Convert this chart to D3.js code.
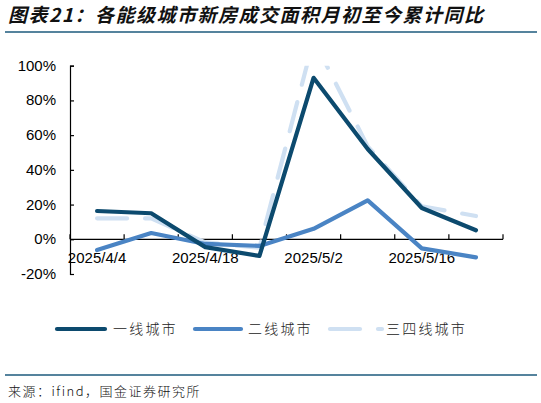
<!DOCTYPE html>
<html>
<head>
<meta charset="utf-8">
<script src="https://cdn.jsdelivr.net/npm/d3@7"></script>
<style>
  body { margin: 0; background: #fff; }
  svg { display: block; }
</style>
</head>
<body>
<div id="chart"></div>
<script>
// Data (weekly, % yoy)
const dates = ["2025/4/4", "2025/4/11", "2025/4/18", "2025/4/25", "2025/5/2", "2025/5/9", "2025/5/16", "2025/5/23"];
const tier1 = [16.3, 15.0, -4.5, -9.6, 93.0, 52.0, 18.0, 5.2];
const tier2 = [-6.2, 3.6, -2.7, -3.8, 6.0, 22.4, -5.2, -10.4];
const tier34 = [12.1, 12.0, -1.8, -4.8, 115.0, 53.5, 19.0, 13.4];
const yTicks = [-20, 0, 20, 40, 60, 80, 100];
const xLabels = ["2025/4/4", "2025/4/18", "2025/5/2", "2025/5/16"];

const seriesList = [
  {name: "一线城市", values: tier1, color: "#0c4a6e", dash: null},
  {name: "二线城市", values: tier2, color: "#4a84c4", dash: null},
  {name: "三四线城市", values: tier34, color: "#cfe0f2", dash: "30,18"}
];

const W = 541, H = 403;
const plot = {left: 70, right: 503, top: 65.7, bottom: 274};

const svg = d3.select("#chart")
  .append("svg")
  .attr("width", W)
  .attr("height", H);

svg.append("rect").attr("width", W).attr("height", H).attr("fill", "#fff");

// Title + rules
svg.append("text")
  .attr("x", 8)
  .attr("y", 22)
  .attr("font-family", "'Noto Sans CJK SC', sans-serif")
  .attr("font-size", 19)
  .attr("font-weight", "bold")
  .attr("font-style", "italic")
  .attr("letter-spacing", 1.5)
  .attr("fill", "#111")
  .text("图表21：各能级城市新房成交面积月初至今累计同比");

svg.append("line")
  .attr("x1", 5).attr("x2", 537)
  .attr("y1", 32).attr("y2", 32)
  .attr("stroke", "#1d5a7c")
  .attr("stroke-width", 1.5);

svg.append("line")
  .attr("x1", 5).attr("x2", 537)
  .attr("y1", 375).attr("y2", 375)
  .attr("stroke", "#1d5a7c")
  .attr("stroke-width", 1.5);

svg.append("text")
  .attr("x", 8)
  .attr("y", 396)
  .attr("font-family", "'Noto Sans CJK SC', sans-serif")
  .attr("font-size", 13)
  .attr("font-weight", 300)
  .attr("letter-spacing", 1.5)
  .attr("fill", "#111")
  .text("来源：ifind，国金证券研究所");

// Scales
const x = d3.scaleBand()
  .domain(dates)
  .range([plot.left, plot.right]);

const y = d3.scaleLinear()
  .domain([-20, 100])
  .range([plot.bottom, plot.top]);

// y axis (ticks point inward)
const yAxis = svg.append("g")
  .attr("transform", "translate(" + plot.left + ",0)")
  .call(d3.axisRight(y).tickValues(yTicks).tickSize(4).tickFormat(""));
yAxis.select(".domain").attr("stroke", "#000").attr("stroke-width", 1.2);
yAxis.selectAll(".tick line").attr("stroke", "#000").attr("stroke-width", 1.2);

svg.append("g")
  .selectAll("text")
  .data(yTicks)
  .join("text")
  .attr("x", 56)
  .attr("y", d => y(d) + 5)
  .attr("text-anchor", "end")
  .attr("font-family", "'Liberation Sans', Arial, sans-serif")
  .attr("font-size", 15)
  .attr("fill", "#000")
  .text(d => d + "%");

// x axis at 0%, ticks on band edges pointing up
const edges = dates.map(d => x(d)).concat([plot.right]);
const xAxis = svg.append("g");
xAxis.append("line")
  .attr("x1", plot.left).attr("x2", plot.right)
  .attr("y1", y(0)).attr("y2", y(0))
  .attr("stroke", "#000").attr("stroke-width", 1.2);
xAxis.selectAll(".xt")
  .data(edges)
  .join("line")
  .attr("class", "xt")
  .attr("x1", d => d).attr("x2", d => d)
  .attr("y1", y(0)).attr("y2", y(0) - 5)
  .attr("stroke", "#000").attr("stroke-width", 1.2);

xAxis.selectAll("text")
  .data(xLabels)
  .join("text")
  .attr("x", d => x(d) + x.bandwidth() / 2)
  .attr("y", 262.5)
  .attr("text-anchor", "middle")
  .attr("font-family", "'Liberation Sans', Arial, sans-serif")
  .attr("font-size", 15)
  .attr("fill", "#000")
  .text(d => d);

// clip lines at the plot top
svg.append("clipPath").attr("id", "plotClip")
  .append("rect")
  .attr("x", 0).attr("y", plot.top)
  .attr("width", W).attr("height", plot.bottom - plot.top + 20);

const line = d3.line()
  .x((v, i) => x(dates[i]) + x.bandwidth() / 2)
  .y(v => y(v));

// draw light one first, then tier2, then tier1 on top
const drawOrder = [seriesList[2], seriesList[1], seriesList[0]];
svg.append("g")
  .attr("clip-path", "url(#plotClip)")
  .selectAll("path")
  .data(drawOrder)
  .join("path")
  .attr("d", d => line(d.values))
  .attr("fill", "none")
  .attr("stroke", d => d.color)
  .attr("stroke-width", 4.2)
  .attr("stroke-linejoin", "round")
  .attr("stroke-linecap", "round")
  .attr("stroke-dasharray", d => d.dash);

// Legend
const legendPos = [
  {x1: 57, x2: 105, tx: 113},
  {x1: 195, x2: 241, tx: 248},
  {x1: 330, x2: 382, tx: 386}
];
const legend = svg.append("g")
  .selectAll("g")
  .data(seriesList)
  .join("g");

legend.append("line")
  .attr("x1", (d, i) => legendPos[i].x1)
  .attr("x2", (d, i) => legendPos[i].x2)
  .attr("y1", 329).attr("y2", 329)
  .attr("stroke", d => d.color)
  .attr("stroke-width", 4.2)
  .attr("stroke-linecap", "round")
  .attr("stroke-dasharray", d => d.dash);

legend.append("text")
  .attr("x", (d, i) => legendPos[i].tx)
  .attr("y", 334)
  .attr("font-family", "'Noto Sans CJK SC', sans-serif")
  .attr("font-size", 14)
  .attr("font-weight", 300)
  .attr("letter-spacing", 2.2)
  .attr("fill", "#222")
  .text(d => d.name);
</script>
</body>
</html>
